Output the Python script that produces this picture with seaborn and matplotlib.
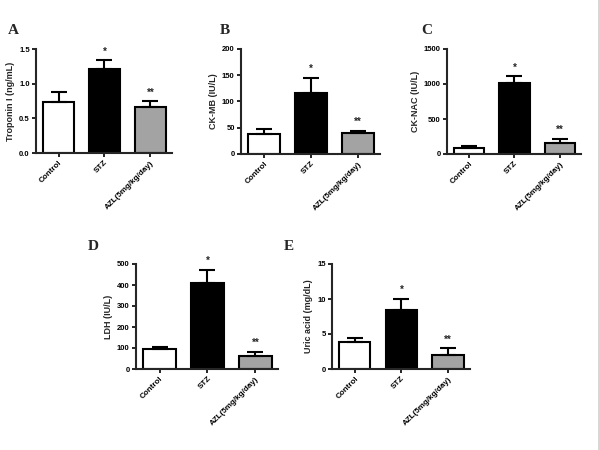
import matplotlib
matplotlib.use("Agg")
import matplotlib.pyplot as plt
from matplotlib.lines import Line2D
import seaborn as sns
import pandas as pd

sns.set_theme(style="ticks")
plt.rcParams['font.family'] = ['Liberation Sans', 'DejaVu Sans']

groups = ["Control", "STZ", "AZL(5mg/kg/day)"]
colors = ["#ffffff", "#000000", "#a3a3a3"]
stars = ["", "*", "**"]

troponin = [0.73, 1.21, 0.67]
troponin_err = [0.15, 0.13, 0.08]
ckmb = [38, 116, 39.5]
ckmb_err = [10, 29, 4.5]
cknac = [85, 1018, 160]
cknac_err = [35, 95, 58]
ldh = [95, 408, 60]
ldh_err = [11, 65, 22]
uric = [3.9, 8.5, 2.0]
uric_err = [0.55, 1.5, 0.95]

panels = [
    dict(letter="A", vals=troponin, err=troponin_err, ylabel="Troponin I (ng/mL)",
         ylim=1.5, ticks=[0, 0.5, 1.0, 1.5], labels=["0.0", "0.5", "1.0", "1.5"],
         rect=[36, 49, 172, 153], lpos=(8, 30)),
    dict(letter="B", vals=ckmb, err=ckmb_err, ylabel="CK-MB (IU/L)",
         ylim=200, ticks=[0, 50, 100, 150, 200], labels=["0", "50", "100", "150", "200"],
         rect=[241, 49, 380, 154], lpos=(220, 30)),
    dict(letter="C", vals=cknac, err=cknac_err, ylabel="CK-NAC (IU/L)",
         ylim=1500, ticks=[0, 500, 1000, 1500], labels=["0", "500", "1000", "1500"],
         rect=[447, 49, 581, 154], lpos=(421, 30)),
    dict(letter="D", vals=ldh, err=ldh_err, ylabel="LDH (IU/L)",
         ylim=500, ticks=[0, 100, 200, 300, 400, 500], labels=["0", "100", "200", "300", "400", "500"],
         rect=[136, 264, 278, 369], lpos=(88, 247)),
    dict(letter="E", vals=uric, err=uric_err, ylabel="Uric acid (mg/dL)",
         ylim=15, ticks=[0, 5, 10, 15], labels=["0", "5", "10", "15"],
         rect=[332, 264, 470, 369], lpos=(284, 247)),
]

W, H = 600, 450
fig = plt.figure(figsize=(6, 4.5), dpi=100)
fig.patch.set_facecolor("white")

for p in panels:
    x0, y0, x1, y1 = p["rect"]
    ax = fig.add_axes([x0 / W, 1 - y1 / H, (x1 - x0) / W, (y1 - y0) / H])
    df = pd.DataFrame({"group": groups, "value": p["vals"]})
    sns.barplot(data=df, x="group", y="value", hue="group", palette=colors,
                order=groups, hue_order=groups, legend=False, width=0.67,
                edgecolor="black", linewidth=1.5, errorbar=None, ax=ax)
    xs = list(range(len(groups)))
    ax.errorbar(xs, p["vals"], yerr=[[0] * 3, p["err"]], fmt="none",
                ecolor="black", elinewidth=1.5, capsize=5.5, capthick=1.5, zorder=1)
    for x, v, e, s in zip(xs, p["vals"], p["err"], stars):
        if s:
            ax.text(x, v + e + p["ylim"] * 0.035, s, ha="center", va="bottom",
                    fontsize=7, fontweight="bold")
    ax.set_xlim(-0.49, 2.47)
    ax.set_ylim(0, p["ylim"])
    ax.set_yticks(p["ticks"])
    ax.set_yticklabels(p["labels"], fontsize=5.5, fontweight="bold")
    ax.set_xticks(xs)
    ax.set_xticklabels(groups, rotation=45, ha="right", rotation_mode="anchor",
                       fontsize=5.8, fontweight="bold")
    ax.set_xlabel("")
    ax.set_ylabel(p["ylabel"], fontsize=6.5, fontweight="bold", labelpad=3)
    sns.despine(ax=ax)
    for sp in ["left", "bottom"]:
        ax.spines[sp].set_linewidth(1.5)
    ax.tick_params(axis="both", length=3, width=1.2, pad=1.5, colors="black")
    ax.set_facecolor("white")
    fig.text(p["lpos"][0] / W, 1 - p["lpos"][1] / H, p["letter"], ha="left", va="center",
             fontsize=11, fontweight="bold", family=["Liberation Serif", "DejaVu Serif"])

fig.add_artist(Line2D([0.998, 0.998], [0, 1], color="#cfcfcf", linewidth=1.2))

fig.savefig("out.png", dpi=100, facecolor="white")
